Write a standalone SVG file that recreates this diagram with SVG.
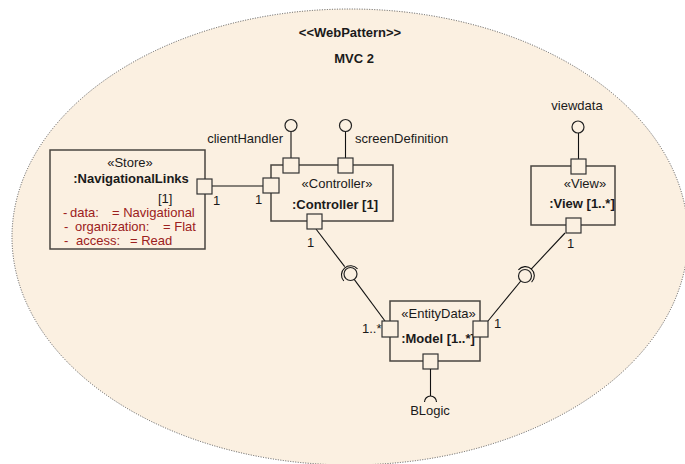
<svg xmlns="http://www.w3.org/2000/svg" width="685" height="464" viewBox="0 0 685 464">
<style>
text{font-family:"Liberation Sans",Arial,sans-serif;font-size:13px;fill:#1a1a1a}
.b{font-weight:bold}
.m{text-anchor:middle}
.r{fill:#9c2020}
.box{fill:none;stroke:#4a4540;stroke-width:1.5}
.port{fill:#fbf0e1;stroke:#333;stroke-width:1.2}
.ln{fill:none;stroke:#111;stroke-width:1.1}
.ball{fill:#fbf0e1;stroke:#222;stroke-width:1.2}
</style>
<rect width="685" height="464" fill="#fff"/>
<g id="pattern">
<ellipse cx="350" cy="237" rx="338" ry="228" fill="#fbf0e1" stroke="#555" stroke-width="1" stroke-dasharray="1 1.5"/>
<text class="b m" x="350" y="37" font-size="12">&lt;&lt;WebPattern&gt;&gt;</text>
<text class="b m" x="354" y="63" font-size="12">MVC 2</text>
</g>
<g id="connectors">
<line class="ln" x1="212" y1="186" x2="263" y2="186"/>
<line class="ln" x1="316" y1="229" x2="344.7" y2="266.7"/>
<path class="ln" d="M357.5 268.8 A9 9 0 1 0 343.8 281"/>
<line class="ln" x1="354" y1="279.2" x2="385" y2="321"/>
<line class="ln" x1="565" y1="233" x2="531" y2="269.3"/>
<path class="ln" d="M531.6 282.1 A9 9 0 1 0 518.4 269.9"/>
<line class="ln" x1="520.8" y1="281" x2="488" y2="321"/>
</g>
<g id="store">
<rect class="box" x="50" y="150" width="155" height="99"/>
<text class="m" x="130" y="167">«Store»</text>
<text class="b m" x="131" y="183" font-size="14">:NavigationalLinks</text>
<text x="158" y="203">[1]</text>
<text class="r" x="63" y="217">-<tspan x="70">data:</tspan><tspan x="112">= Navigational</tspan></text>
<text class="r" x="64" y="231">-<tspan x="75">organization:</tspan><tspan x="163">= Flat</tspan></text>
<text class="r" x="64" y="245">-<tspan x="76">access:</tspan><tspan x="130">= Read</tspan></text>
<rect class="port" x="197" y="179" width="15" height="15"/>
<text x="213" y="205">1</text>
</g>
<g id="controller">
<rect class="box" x="271" y="165" width="122" height="56"/>
<text class="m" x="337" y="188">«Controller»</text>
<text class="b m" x="335" y="209">:Controller [1]</text>
<line class="ln" x1="291" y1="131" x2="291" y2="158"/>
<circle class="ball" cx="291" cy="125.5" r="6"/>
<line class="ln" x1="345.5" y1="131" x2="345.5" y2="158"/>
<circle class="ball" cx="345.5" cy="125.5" r="6"/>
<text x="283" y="143" text-anchor="end">clientHandler</text>
<text x="355" y="143">screenDefinition</text>
<rect class="port" x="283" y="158" width="16" height="15"/>
<rect class="port" x="338" y="158" width="15" height="15"/>
<rect class="port" x="263" y="178" width="16" height="15"/>
<rect class="port" x="307" y="214" width="15" height="15"/>
<text x="255" y="204">1</text>
<text x="307" y="247">1</text>
</g>
<g id="view">
<rect class="box" x="531" y="166" width="84" height="59"/>
<text class="m" x="585" y="188">«View»</text>
<text class="b m" x="582" y="208">:View [1..*]</text>
<line class="ln" x1="578.5" y1="133" x2="578.5" y2="159"/>
<circle class="ball" cx="578" cy="127" r="6"/>
<text class="m" x="577" y="110">viewdata</text>
<rect class="port" x="571" y="159" width="15" height="15"/>
<rect class="port" x="566" y="218" width="15" height="15"/>
<text x="567" y="248">1</text>
</g>
<g id="model">
<rect class="box" x="390" y="301" width="90" height="60"/>
<text class="m" x="438.5" y="318">«EntityData»</text>
<text class="b m" x="438" y="343">:Model [1..*]</text>
<rect class="port" x="382" y="321" width="16" height="16"/>
<rect class="port" x="473" y="321" width="15" height="16"/>
<rect class="port" x="423" y="354" width="15" height="15"/>
<text x="362" y="333">1..*</text>
<text x="494" y="328">1</text>
<line class="ln" x1="430.5" y1="369" x2="430.5" y2="396"/>
<path class="ln" d="M424.5 402 A6 6 0 0 1 436.5 402"/>
<text class="m" x="430" y="415">BLogic</text>
</g>
<g id="sockets">
<circle class="ball" cx="350.5" cy="274" r="6.5"/>
<circle class="ball" cx="525" cy="276" r="6.5"/>
</g>
</svg>
